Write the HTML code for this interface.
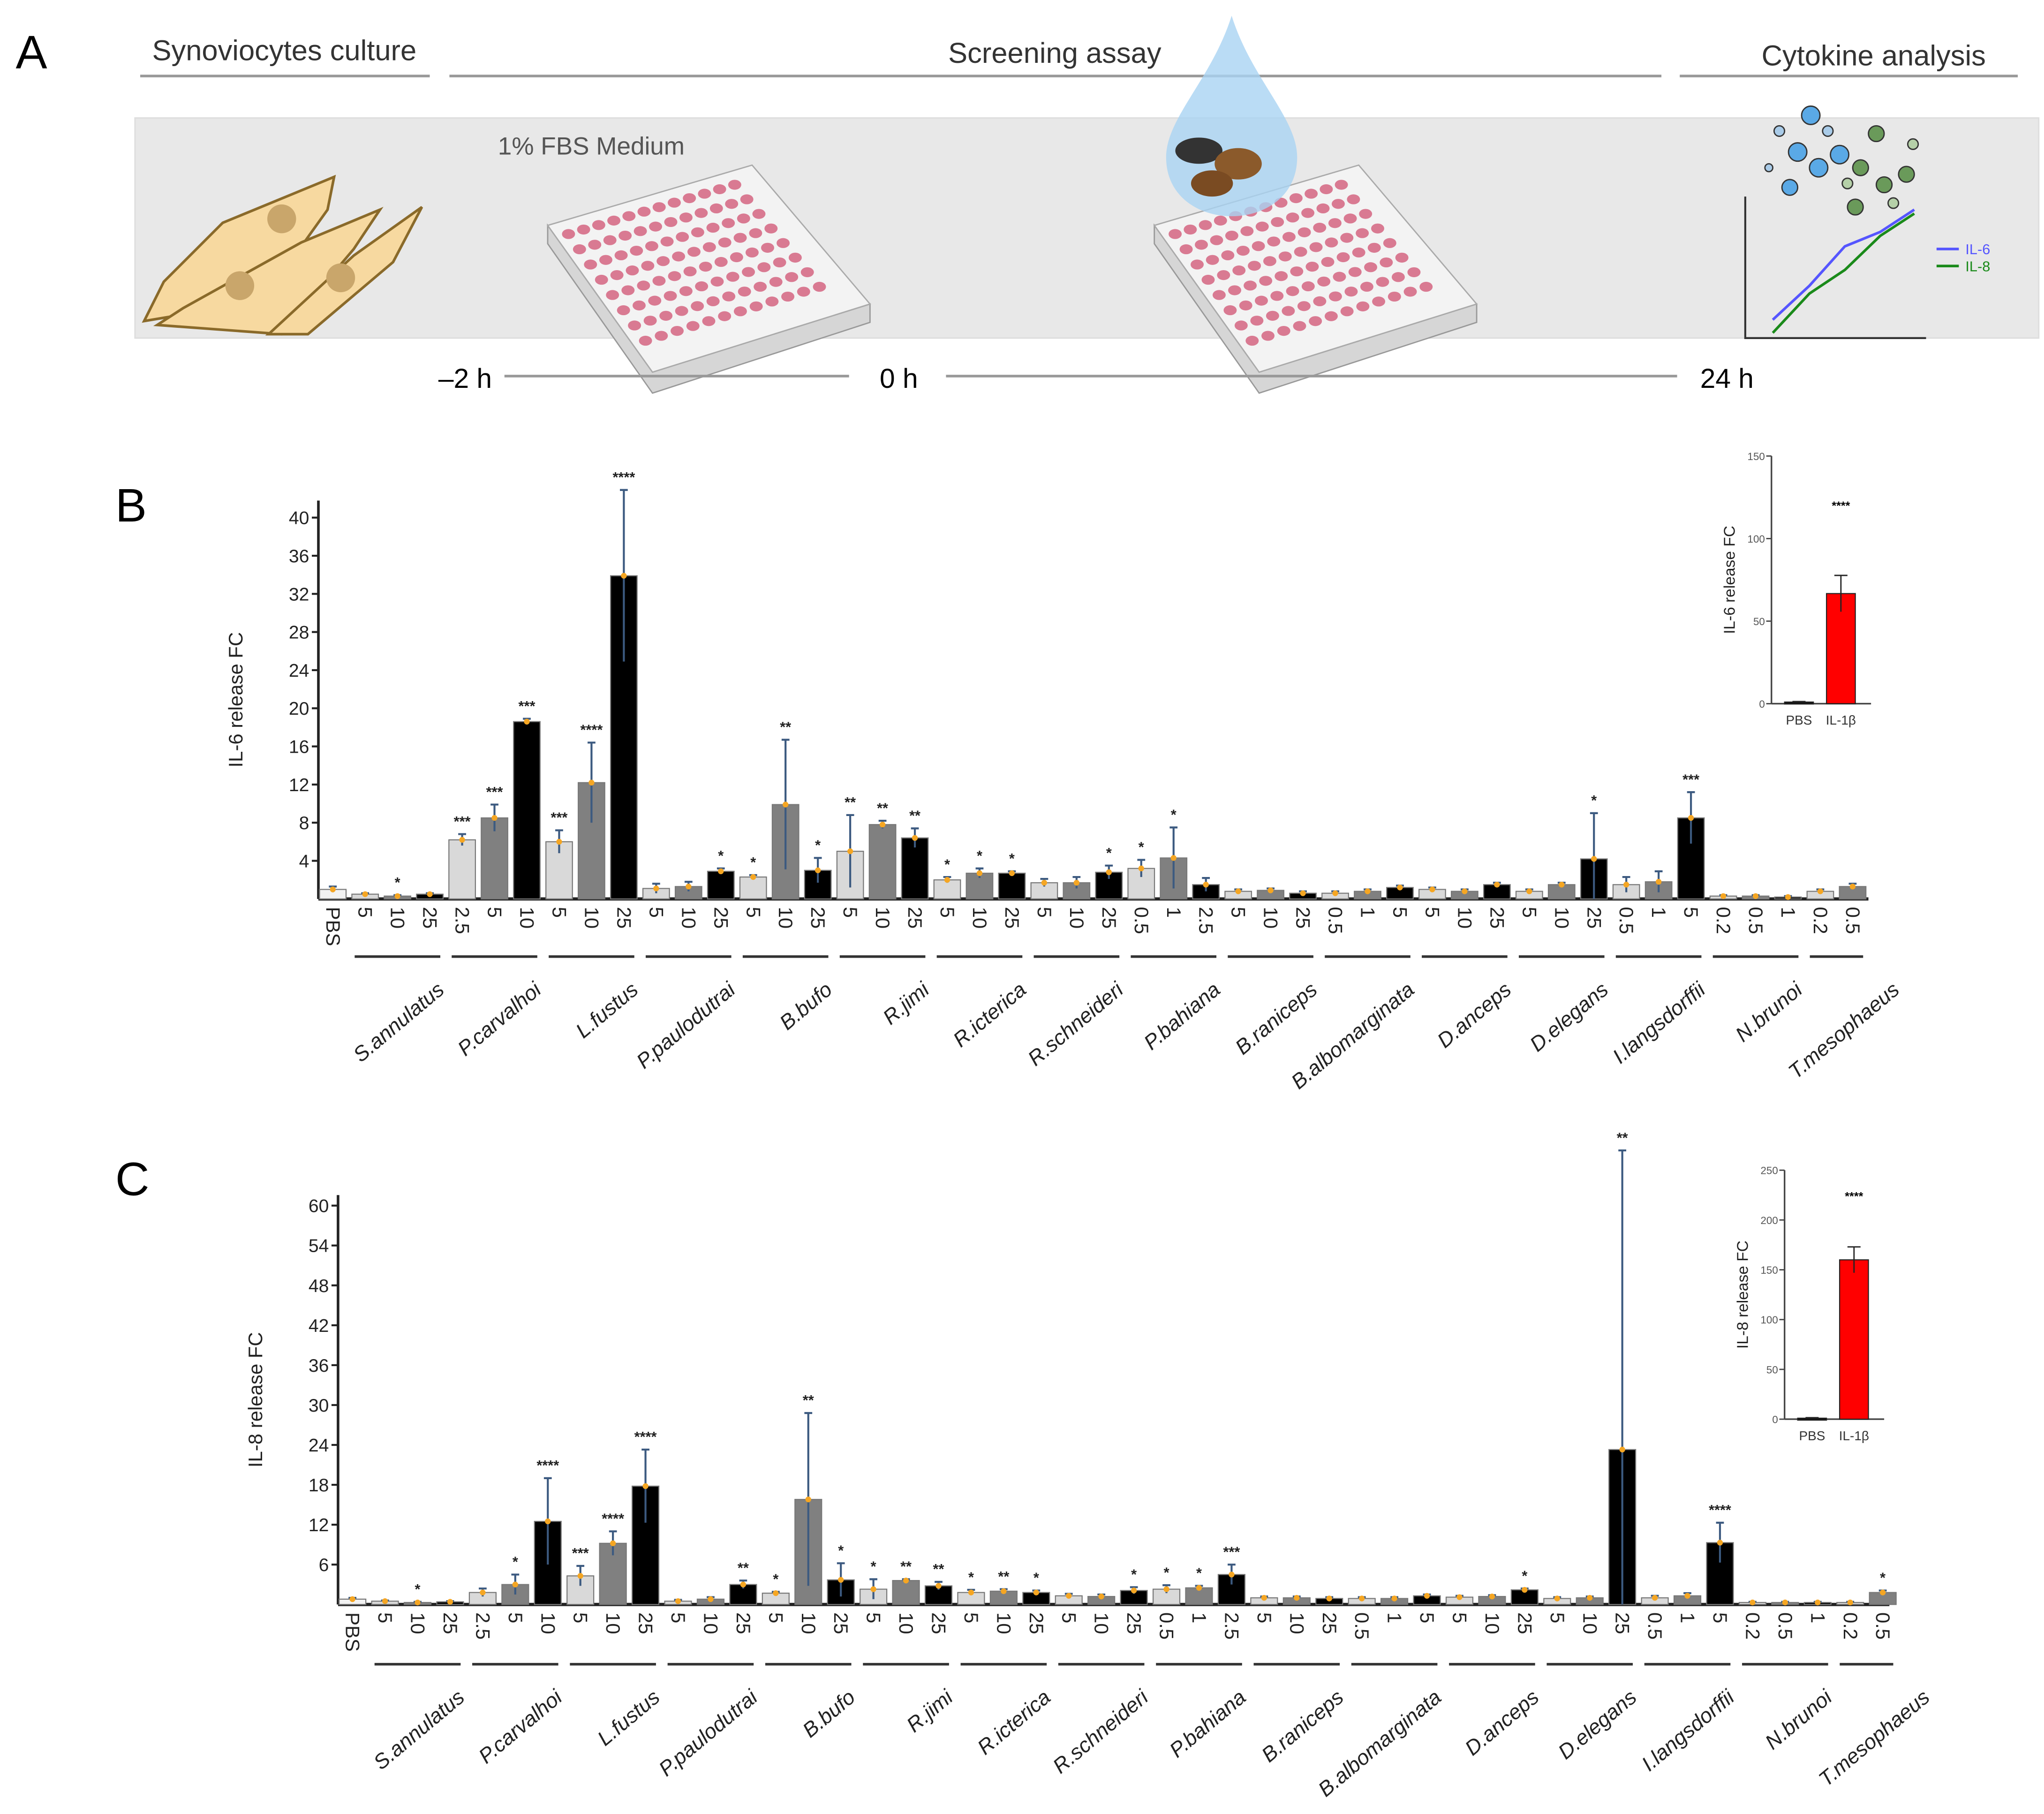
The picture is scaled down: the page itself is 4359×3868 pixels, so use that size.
<!DOCTYPE html>
<html><head><meta charset="utf-8"><style>
html,body{margin:0;padding:0;background:#fff}
svg{display:block}
text{font-family:"Liberation Sans",sans-serif}
</style></head><body>
<svg id="fig" xmlns="http://www.w3.org/2000/svg" width="4359" height="3868" viewBox="0 0 1560 1384.3" preserveAspectRatio="none">
<rect width="1560" height="1384.3" fill="#fff"/>
<g>
<text x="12" y="52" font-size="36">A</text>
<text x="217" y="46" font-size="22" text-anchor="middle" fill="#333">Synoviocytes culture</text>
<line x1="107" y1="58" x2="328" y2="58" stroke="#999" stroke-width="2"/>
<text x="805" y="48" font-size="22" text-anchor="middle" fill="#333">Screening assay</text>
<line x1="343" y1="58" x2="1268" y2="58" stroke="#999" stroke-width="2"/>
<text x="1430" y="50" font-size="22" text-anchor="middle" fill="#333">Cytokine analysis</text>
<line x1="1282" y1="58" x2="1540" y2="58" stroke="#999" stroke-width="2"/>
<rect x="103" y="90" width="1453" height="168" fill="#e8e8e8" stroke="#ddd"/>
<text x="380" y="118" font-size="19" fill="#555">1% FBS Medium</text>
<g fill="#f7d9a0" stroke="#8a6a2a" stroke-width="2">
<path d="M125,215 L170,170 L255,135 L250,160 L200,230 L110,245 Z"/>
<path d="M140,235 L230,185 L290,160 L270,190 L215,255 L120,248 Z"/>
<path d="M205,255 L270,195 L322,158 L300,200 L235,255 Z"/>
<circle cx="215" cy="167" r="11" fill="#c9a66b" stroke="none"/>
<circle cx="183" cy="218" r="11" fill="#c9a66b" stroke="none"/>
<circle cx="260" cy="212" r="11" fill="#c9a66b" stroke="none"/>
</g>
<g id="plates"></g>
<path d="M940,12 C955,60 990,90 990,120 C990,150 965,165 940,165 C915,165 890,150 890,120 C890,90 925,60 940,12 Z" fill="#a9d3f2" opacity="0.8"/>
<ellipse cx="915" cy="115" rx="18" ry="10" fill="#333"/>
<ellipse cx="945" cy="125" rx="18" ry="12" fill="#8b5a2b"/>
<ellipse cx="925" cy="140" rx="16" ry="10" fill="#7a4b22"/>
<g id="minichart">
<polyline points="1332,150 1332,258 1470,258" fill="none" stroke="#333" stroke-width="1.5"/>
<polyline points="1353,244 1381,218 1408,188 1435,177 1461,160" fill="none" stroke="#5555ff" stroke-width="2"/>
<polyline points="1353,254 1381,224 1408,206 1435,180 1461,163" fill="none" stroke="#1a8a1a" stroke-width="2"/>
<line x1="1478" y1="190" x2="1495" y2="190" stroke="#5555ff" stroke-width="2"/>
<text x="1500" y="194" font-size="11" fill="#5555ff" font-family="Liberation Serif">IL-6</text>
<line x1="1478" y1="203" x2="1495" y2="203" stroke="#1a8a1a" stroke-width="2"/>
<text x="1500" y="207" font-size="11" fill="#1a8a1a" font-family="Liberation Serif">IL-8</text>
</g>
<g id="bubbles"></g>
<text x="355" y="296" font-size="21" text-anchor="middle">–2 h</text>
<line x1="385" y1="287" x2="648" y2="287" stroke="#999" stroke-width="2"/>
<text x="686" y="296" font-size="21" text-anchor="middle">0 h</text>
<line x1="722" y1="287" x2="1280" y2="287" stroke="#999" stroke-width="2"/>
<text x="1318" y="296" font-size="21" text-anchor="middle">24 h</text>
</g>
<g id="chartB"></g>
<g id="chartC"></g>
<g id="insetB"></g>
<g id="insetC"></g>
</svg>
<script>
const doses = ["PBS","5","10","25","2.5","5","10","5","10","25","5","10","25","5","10","25","5","10","25","5","10","25","5","10","25","0.5","1","2.5","5","10","25","0.5","1","5","5","10","25","5","10","25","0.5","1","5","0.2","0.5","1","0.2","0.5"];
const species = ["S.annulatus","P.carvalhoi","L.fustus","P.paulodutrai","B.bufo","R.jimi","R.icterica","R.schneideri","P.bahiana","B.raniceps","B.albomarginata","D.anceps","D.elegans","I.langsdorffii","N.brunoi","T.mesophaeus"];
const il6Values = [1,0.5,0.3,0.5,6.2,8.5,18.6,6,12.2,33.9,1.1,1.3,2.9,2.3,9.9,3,5,7.8,6.4,2,2.7,2.7,1.7,1.7,2.8,3.2,4.3,1.5,0.8,0.9,0.6,0.6,0.8,1.2,1,0.8,1.5,0.8,1.5,4.2,1.5,1.8,8.5,0.3,0.3,0.2,0.8,1.3];
const il6Errors = [0.3,0.1,0.1,0.1,0.6,1.4,0.3,1.2,4.2,9,0.5,0.5,0.3,0.2,6.8,1.3,3.8,0.4,1,0.3,0.5,0.2,0.4,0.6,0.7,0.9,3.2,0.7,0.2,0.2,0.2,0.2,0.2,0.2,0.2,0.2,0.2,0.2,0.2,4.8,0.8,1.1,2.7,0.1,0.1,0.1,0.2,0.3];
const il6Sig = ["","","*","","***","***","***","***","****","****","","","*","*","**","*","**","**","**","*","*","*","","","*","*","*","","","","","","","","","","","","","*","","","***","","","","",""];
const il6Ticks = [4,8,12,16,20,24,28,32,36,40];
const il8Values = [0.8,0.5,0.3,0.4,1.8,3,12.5,4.3,9.2,17.8,0.5,0.8,3,1.7,15.8,3.7,2.3,3.6,2.8,1.8,2,1.8,1.3,1.2,2.1,2.3,2.5,4.5,1,1,0.9,0.9,0.9,1.3,1.1,1.2,2.2,0.9,1,23.3,1,1.3,9.3,0.3,0.3,0.3,0.3,1.8];
const il8Errors = [0.2,0.1,0.1,0.1,0.6,1.5,6.5,1.5,1.8,5.5,0.2,0.3,0.6,0.2,13,2.5,1.5,0.2,0.6,0.4,0.3,0.3,0.3,0.3,0.5,0.6,0.3,1.5,0.2,0.2,0.2,0.2,0.2,0.2,0.2,0.2,0.2,0.2,0.2,45,0.3,0.4,3,0.1,0.1,0.1,0.1,0.3];
const il8Sig = ["","","*","","","*","****","***","****","****","","","**","*","**","*","*","**","**","*","**","*","","","*","*","*","***","","","","","","","","","*","","","**","","","****","","","","","*"];
const il8Ticks = [6,12,18,24,30,36,42,48,54,60];
const insetCategories = ["PBS","IL-1β"];
const insetIl6Values = [1,66.7];
const insetIl6Errors = [0.3,11];
const insetIl6Ticks = [0,50,100,150];
const insetIl8Values = [1,160];
const insetIl8Errors = [0.5,13];
const insetIl8Ticks = [0,50,100,150,200,250];

const NS="http://www.w3.org/2000/svg";
function mk(parent,tag,attrs,txt){const e=document.createElementNS(NS,tag);for(const k in attrs)e.setAttribute(k,attrs[k]);if(txt!==undefined)e.textContent=txt;parent.appendChild(e);return e;}

(function(){
  const g=document.getElementById('plates');
  [0,463].forEach(function(dx,pi){
    const A=[418+dx,172],B=[574+dx,126],C=[664+dx,232],D=[498+dx,284];
    const pg=mk(g,'g',{});
    
    
    mk(pg,'polygon',{points:`${A[0]},${A[1]} ${D[0]},${D[1]} ${C[0]},${C[1]} ${C[0]},${C[1]+14} ${D[0]},${D[1]+16} ${A[0]},${A[1]+14}`,fill:'#d6d6d6',stroke:'#999'});
    mk(pg,'polygon',{points:`${A[0]},${A[1]} ${B[0]},${B[1]} ${C[0]},${C[1]} ${D[0]},${D[1]}`,fill:'#f3f3f3',stroke:'#aaa'});
    for(let i=0;i<12;i++)for(let j=0;j<8;j++){
      const u=(i+0.8)/13.6,v=(j+0.8)/9.6;
      const x=A[0]+(B[0]-A[0])*u+(D[0]-A[0])*v+(C[0]-B[0]-D[0]+A[0])*u*v;
      const y=A[1]+(B[1]-A[1])*u+(D[1]-A[1])*v+(C[1]-B[1]-D[1]+A[1])*u*v;
      mk(pg,'ellipse',{cx:x,cy:y,rx:5,ry:3.8,fill:'#d97a92'});
    }
  });
  const bg=document.getElementById('bubbles');
  [[1382,88,7,'#5aa9e6'],[1372,116,7,'#5aa9e6'],[1388,128,7,'#5aa9e6'],[1404,118,7,'#5aa9e6'],[1366,143,6,'#5aa9e6'],[1432,102,6,'#6a9a5a'],[1420,128,6,'#6a9a5a'],[1438,141,6,'#6a9a5a'],[1455,133,6,'#6a9a5a'],[1416,158,6,'#6a9a5a'],[1358,100,4,'#a9cbe8'],[1395,100,4,'#a9cbe8'],[1350,128,3,'#a9cbe8'],[1460,110,4,'#b5d0a8'],[1410,140,4,'#b5d0a8'],[1445,155,4,'#b5d0a8']].forEach(function(b){
    mk(bg,'circle',{cx:b[0],cy:b[1],r:b[2],fill:b[3],stroke:'#333','stroke-width':1});
  });
})();

function barChart(gid,cfg,values,errors,sig,ticks){
  const g=document.getElementById(gid);
  const y=v=>cfg.y0-v*cfg.ppu;
  const x=i=>cfg.x0+i*cfg.step;
  mk(g,'text',{x:cfg.letterX,y:cfg.letterY,'font-size':36},cfg.letter);
  mk(g,'line',{x1:cfg.ax,y1:cfg.top,x2:cfg.ax,y2:cfg.y0,stroke:'#222','stroke-width':2});
  const xa=mk(g,'line',{x1:cfg.ax,y1:cfg.y0,x2:cfg.axEnd,y2:cfg.y0,stroke:'#222','stroke-width':2.5});
  
  ticks.forEach(function(t){
    mk(g,'line',{x1:cfg.ax-5,y1:y(t),x2:cfg.ax,y2:y(t),stroke:'#222','stroke-width':1.5});
    const tl=mk(g,'text',{x:cfg.ax-7,y:y(t)+5,'font-size':14,'text-anchor':'end',fill:'#222'},String(t));
    
    
  });
  const yt=mk(g,'text',{transform:`translate(${cfg.ax-58},${(cfg.top+cfg.y0)/2}) rotate(-90)`,'font-size':15,'text-anchor':'middle',fill:'#222'},cfg.title);
  
  
  const grpColors=['#d9d9d9','#808080','#000'];
  values.forEach(function(v,i){
    let col = i===0 ? '#f2f2f2' : grpColors[(i-1)%3];
    const bw=cfg.step*0.82;
    const r=mk(g,'rect',{x:x(i)-bw/2,y:y(v),width:bw,height:v*cfg.ppu,fill:col,stroke:'#777','stroke-width':0.8});
    
    
    const top=y(v+errors[i]);
    mk(g,'line',{x1:x(i),y1:top,x2:x(i),y2:y(Math.max(0,v-errors[i])),stroke:'#3c5a80','stroke-width':1.5});
    mk(g,'line',{x1:x(i)-3,y1:top,x2:x(i)+3,y2:top,stroke:'#3c5a80','stroke-width':1.5});
    const dot=mk(g,'circle',{cx:x(i),cy:y(v),r:2.2,fill:'#f5a623'});
    
    
    if(sig[i]){
      const s=mk(g,'text',{x:x(i),y:top-6,'font-size':11,'text-anchor':'middle','font-weight':'bold',fill:'#222'},sig[i]);
      
      
    }
    const dl=mk(g,'text',{transform:`translate(${x(i)-5},${cfg.y0+6}) rotate(90)`,'font-size':15,fill:'#222'},doses[i]);
    
    
  });
  species.forEach(function(s,k){
    const i0=1+k*3, i1=Math.min(i0+2,values.length-1);
    const ul=mk(g,'line',{x1:x(i0)-8,y1:cfg.ulY,x2:x(i1)+8,y2:cfg.ulY,stroke:'#333','stroke-width':2});
    
    const cx=x(i0)+2*cfg.step+12;
    const sl=mk(g,'text',{transform:`translate(${cx},${cfg.ulY+27}) rotate(-40)`,'font-size':16,'font-style':'italic','text-anchor':'end',fill:'#222'},s);
    
    
  });
}
barChart('chartB',{x0:254,step:24.68,y0:686,ppu:7.275,ax:243,axEnd:1426,top:382,ulY:730,letter:'B',letterX:88,letterY:398,title:'IL-6 release FC'},il6Values,il6Errors,il6Sig,il6Ticks);
barChart('chartC',{x0:269,step:24.85,y0:1224.4,ppu:5.073,ax:258,axEnd:1442,top:912,ulY:1270,letter:'C',letterX:88,letterY:912,title:'IL-8 release FC'},il8Values,il8Errors,il8Sig,il8Ticks);

function inset(gid,cfg,values,errors,ticks){
  const g=document.getElementById(gid);
  const y=v=>cfg.y0-v*cfg.ppu;
  const xs=[cfg.ax+21,cfg.ax+53];
  mk(g,'line',{x1:cfg.ax,y1:y(ticks[ticks.length-1]),x2:cfg.ax,y2:cfg.y0,stroke:'#444','stroke-width':1.2});
  mk(g,'line',{x1:cfg.ax,y1:cfg.y0,x2:cfg.ax+76,y2:cfg.y0,stroke:'#444','stroke-width':1.2});
  ticks.forEach(function(t){
    mk(g,'line',{x1:cfg.ax-4,y1:y(t),x2:cfg.ax,y2:y(t),stroke:'#444'});
    const tl=mk(g,'text',{x:cfg.ax-5,y:y(t)+3,'font-size':8,'text-anchor':'end',fill:'#555'},String(t));
    
    
  });
  const yt=mk(g,'text',{transform:`translate(${cfg.ax-28},${(y(ticks[ticks.length-1])+cfg.y0)/2}) rotate(-90)`,'font-size':12,'text-anchor':'middle',fill:'#222'},cfg.title);
  
  
  values.forEach(function(v,i){
    const bw=22;
    const r=mk(g,'rect',{x:xs[i]-bw/2,y:y(v),width:bw,height:Math.max(1.5,v*cfg.ppu),fill:i===1?'#ff0000':'#111',stroke:'#222','stroke-width':0.8});
    
    
    const t=y(v+errors[i]);
    mk(g,'line',{x1:xs[i],y1:t,x2:xs[i],y2:y(Math.max(0,v-errors[i])),stroke:'#222'});
    mk(g,'line',{x1:xs[i]-5,y1:t,x2:xs[i]+5,y2:t,stroke:'#222'});
    const l=mk(g,'text',{x:xs[i],y:cfg.y0+16,'font-size':10,'text-anchor':'middle',fill:'#333'},insetCategories[i]);
    
    
  });
  const s=mk(g,'text',{x:xs[1],y:cfg.sigY,'font-size':9,'text-anchor':'middle','font-weight':'bold'},'****');
  
  
}
inset('insetB',{ax:1352,y0:537,ppu:1.26,title:'IL-6 release FC',sigY:389},insetIl6Values,insetIl6Errors,insetIl6Ticks);
inset('insetC',{ax:1362,y0:1083,ppu:0.76,title:'IL-8 release FC',sigY:916},insetIl8Values,insetIl8Errors,insetIl8Ticks);
</script>
</body></html>
